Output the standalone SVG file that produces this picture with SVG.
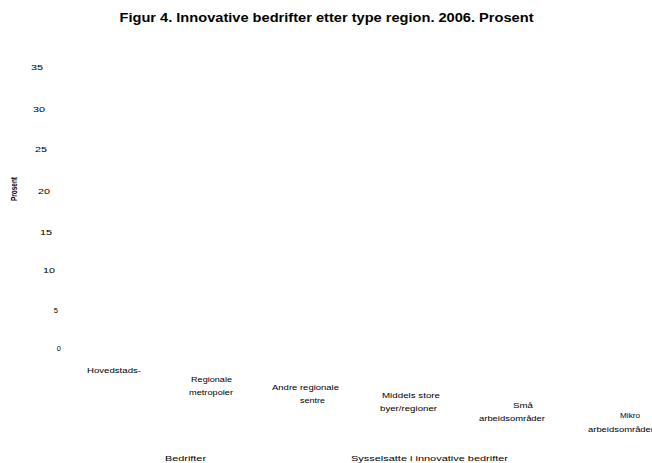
<svg xmlns="http://www.w3.org/2000/svg" width="652" height="463" viewBox="0 0 652 463">
<style>
text{font-family:"Liberation Sans",Arial,sans-serif;fill:#000}
.t{font-size:12px;font-weight:bold}
.y{font-size:7.5px;text-anchor:end}
.x{font-size:7px}
.l{font-size:8px}
.p{font-size:9px;font-weight:bold}
</style>
<rect width="652" height="463" fill="#fff"/>
<text class="t" x="326.5" y="22" text-anchor="middle" textLength="414" lengthAdjust="spacingAndGlyphs">Figur 4. Innovative bedrifter etter type region. 2006. Prosent</text>
<g id="yaxis">
<text class="y" x="43" y="70" textLength="12" lengthAdjust="spacingAndGlyphs">35</text>
<text class="y" x="45" y="112" textLength="12" lengthAdjust="spacingAndGlyphs">30</text>
<text class="y" x="47" y="152" textLength="12" lengthAdjust="spacingAndGlyphs">25</text>
<text class="y" x="50" y="194" textLength="12" lengthAdjust="spacingAndGlyphs">20</text>
<text class="y" x="52" y="235" textLength="12" lengthAdjust="spacingAndGlyphs">15</text>
<text class="y" x="55" y="273" textLength="12" lengthAdjust="spacingAndGlyphs">10</text>
<text class="y" x="58" y="313">5</text>
<text class="y" x="61" y="351">0</text>
<text class="p" transform="translate(17,189) rotate(-90)" text-anchor="middle" textLength="24" lengthAdjust="spacingAndGlyphs">Prosent</text>
</g>
<g id="xlabels">
<text class="x" x="87" y="373" textLength="54" lengthAdjust="spacingAndGlyphs">Hovedstads-</text>
<text class="x" x="191" y="382" textLength="41" lengthAdjust="spacingAndGlyphs">Regionale</text>
<text class="x" x="189" y="395" textLength="44" lengthAdjust="spacingAndGlyphs">metropoler</text>
<text class="x" x="272" y="390" textLength="67" lengthAdjust="spacingAndGlyphs">Andre regionale</text>
<text class="x" x="300" y="403" textLength="25" lengthAdjust="spacingAndGlyphs">sentre</text>
<text class="x" x="382" y="398" textLength="58" lengthAdjust="spacingAndGlyphs">Middels store</text>
<text class="x" x="380" y="411" textLength="57" lengthAdjust="spacingAndGlyphs">byer/regioner</text>
<text class="x" x="513" y="408" textLength="20" lengthAdjust="spacingAndGlyphs">Små</text>
<text class="x" x="479" y="421" textLength="66" lengthAdjust="spacingAndGlyphs">arbeidsområder</text>
<text class="x" x="620" y="418" textLength="20" lengthAdjust="spacingAndGlyphs">Mikro</text>
<text class="x" x="588" y="432" textLength="66" lengthAdjust="spacingAndGlyphs">arbeidsområder</text>
</g>
<g id="legend">
<text class="l" x="165" y="461" textLength="41" lengthAdjust="spacingAndGlyphs">Bedrifter</text>
<text class="l" x="351" y="461" textLength="157" lengthAdjust="spacingAndGlyphs">Sysselsatte i innovative bedrifter</text>
</g>
</svg>
